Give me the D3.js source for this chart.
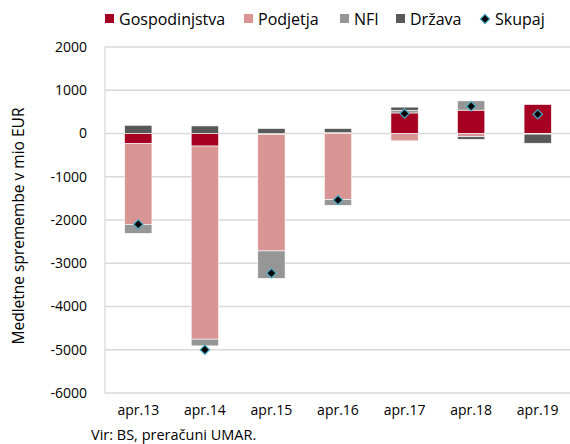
<!DOCTYPE html>
<html lang="sl">
<head>
<meta charset="UTF-8">
<title>Medletne spremembe</title>
<script src="https://d3js.org/d3.v7.min.js"></script>
<style>
    body { margin: 0; background: #fff; }
    svg { display: block; font-family: "Open Sans", "Noto Sans", sans-serif; }
    .grid line { stroke: #d9d9d9; stroke-width: 1.3; }
    .tick-label { font-size: 14px; fill: #000; }
</style>
</head>
<body>
<svg id="chart" width="570" height="444"></svg>
<script>
    const categories = ["apr.13", "apr.14", "apr.15", "apr.16", "apr.17", "apr.18", "apr.19"];
    const seriesNames = ["Gospodinjstva", "Podjetja", "NFI", "Država"];
    const gospodinjstva = [-230, -290, -20, 20, 475, 540, 670];
    const podjetja = [-1870, -4465, -2695, -1525, -170, -75, -15];
    const nfi = [-210, -155, -635, -135, 60, 215, 0];
    const drzava = [190, 175, 115, 95, 75, -60, -210];
    const skupaj = [-2100, -5000, -3230, -1540, 460, 630, 445];
    const yTicks = [2000, 1000, 0, -1000, -2000, -3000, -4000, -5000, -6000];
    const colors = ["#a50021", "#d99594", "#969696", "#595959"];

    const svg = d3.select("#chart");
    const plotLeft = 105, plotRight = 571, plotTop = 47, plotBottom = 393;

    const x = d3.scaleBand().domain(categories).range([plotLeft, plotRight]).paddingInner(0.59).paddingOuter(0.295);
    const y = d3.scaleLinear().domain([-6000, 2000]).range([plotBottom, plotTop]);

    // gridlines
    svg.append("g").attr("class", "grid")
        .selectAll("line").data(yTicks).join("line")
        .attr("x1", plotLeft).attr("x2", plotRight)
        .attr("y1", d => y(d)).attr("y2", d => y(d));
    svg.append("line").attr("x1", plotLeft).attr("x2", plotLeft).attr("y1", plotTop).attr("y2", plotBottom)
        .attr("stroke", "#d9d9d9").attr("stroke-width", 1.3);

    // y tick labels
    svg.append("g").selectAll("text").data(yTicks).join("text")
        .attr("class", "tick-label")
        .attr("x", 87).attr("y", d => y(d)).attr("dy", "0.35em")
        .attr("text-anchor", "end")
        .text(d => d);

    // x labels
    svg.append("g").selectAll("text").data(categories).join("text")
        .attr("class", "tick-label")
        .attr("x", d => x(d) + x.bandwidth() / 2).attr("y", 415)
        .attr("text-anchor", "middle")
        .text(d => d);

    const rows = categories.map((c, i) => ({
        cat: c, "Gospodinjstva": gospodinjstva[i], "Podjetja": podjetja[i], "NFI": nfi[i], "Država": drzava[i]
    }));
    const stack = d3.stack().keys(seriesNames).offset(d3.stackOffsetDiverging)(rows);

    svg.append("g").selectAll("g").data(stack).join("g")
        .attr("fill", (d, i) => colors[i])
        .selectAll("rect").data(d => d).join("rect")
        .attr("x", d => x(d.data.cat))
        .attr("width", x.bandwidth())
        .attr("y", d => y(Math.max(d[0], d[1])))
        .attr("height", d => Math.abs(y(d[0]) - y(d[1])))
        .attr("stroke", "#fff").attr("stroke-width", 0.6);

    // Skupaj diamonds
    const diamond = d3.symbol().type(d3.symbolDiamond2).size(55);
    svg.append("g").selectAll("path").data(skupaj).join("path")
        .attr("d", diamond)
        .attr("transform", (d, i) => `translate(${x(categories[i]) + x.bandwidth() / 2},${y(d)})`)
        .attr("fill", "#000").attr("stroke", "#4bacc6").attr("stroke-width", 1.2);

    // legend
    const legendItems = [
        { name: "Gospodinjstva", x: 105 },
        { name: "Podjetja", x: 244 },
        { name: "NFI", x: 340 },
        { name: "Država", x: 396 }
    ];
    const lg = svg.append("g");
    legendItems.forEach((it, i) => {
        lg.append("rect").attr("x", it.x).attr("y", 14).attr("width", 9).attr("height", 9).attr("fill", colors[i]);
        lg.append("text").attr("x", it.x + 14).attr("y", 24.5).attr("font-size", 16).text(it.name);
    });
    lg.append("path").attr("d", diamond)
        .attr("transform", "translate(485,19)")
        .attr("fill", "#000").attr("stroke", "#4bacc6").attr("stroke-width", 1.2);
    lg.append("text").attr("x", 495).attr("y", 24.5).attr("font-size", 16).text("Skupaj");

    // y axis title
    svg.append("text")
        .attr("transform", "translate(24,226) rotate(-90)")
        .attr("text-anchor", "middle").attr("font-size", 15.5)
        .text("Medletne spremembe v mio EUR");

    // source
    svg.append("text").attr("x", 91).attr("y", 440).attr("font-size", 14.5)
        .text("Vir: BS, preračuni UMAR.");
</script>
</body>
</html>
